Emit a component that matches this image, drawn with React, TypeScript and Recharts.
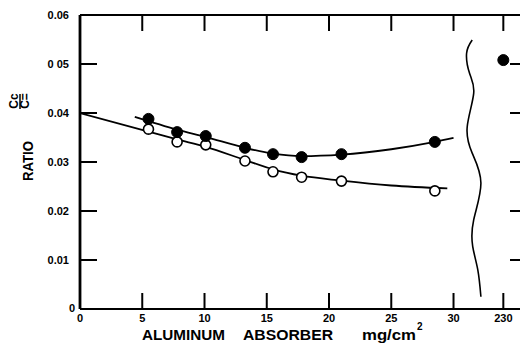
import React from 'react';
import { ComposedChart, Line, Scatter, XAxis, YAxis, Customized } from 'recharts';

// ---- data ----
const xTickValues = [0, 5, 10, 15, 20, 25, 30, 230];
const yTickValues = [0, 0.01, 0.02, 0.03, 0.04, 0.05, 0.06];
const yTickLabels = ['0', '0.01', '0.02', '0.03', '0.04', '0 05', '0.06'];

const absorberX = [5.5, 7.8, 10.1, 13.25, 15.5, 17.8, 21, 28.5];
const filledRatio = [0.0388, 0.0361, 0.0353, 0.0329, 0.0316, 0.031, 0.0316, 0.0341];
const openRatio = [0.0367, 0.0341, 0.0335, 0.0302, 0.028, 0.0269, 0.0261, 0.0241];

const farX = [230];
const farFilledRatio = [0.0508];

const fitFilledX = [4.4, 7.8, 10.1, 13.25, 15.5, 17.8, 21, 25, 28.5, 30];
const fitFilledY = [0.0392, 0.0366, 0.0351, 0.0329, 0.0317, 0.0312, 0.0315, 0.0326, 0.0341, 0.0349];
const fitOpenX = [0, 5.5, 7.8, 10.1, 13.25, 15.5, 17.8, 21, 25, 29.5];
const fitOpenY = [0.04, 0.0362, 0.0346, 0.0331, 0.0304, 0.0285, 0.0272, 0.0262, 0.0252, 0.0246];

// axis-break squiggle (drawn in data units of the broken axis)
const breakX = [31.5, 31.05, 31.3, 31.62, 31.1, 31.5, 32.2, 31.62, 31.54, 31.95, 32.2];
const breakY = [0.0549, 0.0522, 0.048, 0.044, 0.0372, 0.0318, 0.0257, 0.0182, 0.0128, 0.008, 0.0025];

// broken axis: values beyond the break are shifted next to 30
const BREAK_SHIFT = 196;
const pos = (x: number) => (x > 100 ? x - BREAK_SHIFT : x);

const filledData = absorberX.map((x, i) => ({ x: pos(x), y: filledRatio[i] }));
const openData = absorberX.map((x, i) => ({ x: pos(x), y: openRatio[i] }));
const farData = farX.map((x, i) => ({ x: pos(x), y: farFilledRatio[i] }));
const fitFilled = fitFilledX.map((x, i) => ({ x: pos(x), y: fitFilledY[i] }));
const fitOpen = fitOpenX.map((x, i) => ({ x: pos(x), y: fitOpenY[i] }));
const breakData = breakX.map((x, i) => ({ x, y: breakY[i] }));

const FONT = '"Liberation Sans", Arial, sans-serif';

const BottomTick = (props: any) => {
  const { x, payload } = props;
  const v = payload.value;
  const real = v > 31 ? v + BREAK_SHIFT : v;
  return (
    <g>
      {real !== 0 && <line x1={x} y1={309} x2={x} y2={293} stroke="#000" strokeWidth={2} />}
      <text x={x} y={322} textAnchor="middle" fontFamily={FONT} fontWeight="bold" fontSize={11} fill="#000">
        {String(real)}
      </text>
    </g>
  );
};

const TopTick = (props: any) => {
  const { x, payload } = props;
  if (payload.value === 0) return <g />;
  return <line x1={x} y1={15} x2={x} y2={31} stroke="#000" strokeWidth={2} />;
};

const LeftTick = (props: any) => {
  const { y, payload } = props;
  const i = yTickValues.indexOf(payload.value);
  const label = yTickLabels[i];
  const isZero = payload.value === 0;
  return (
    <g>
      {!isZero && <line x1={80} y1={y} x2={97} y2={y} stroke="#000" strokeWidth={2} />}
      <text
        x={isZero ? 75 : 69}
        y={isZero ? y + 3 : y + 4}
        textAnchor="end"
        fontFamily={FONT}
        fontWeight="bold"
        fontSize={11}
        fill="#000"
      >
        {label}
      </text>
    </g>
  );
};

const RightTick = (props: any) => {
  const { y, payload } = props;
  if (payload.value === 0 || payload.value === 0.06) return <g />;
  return <line x1={520} y1={y} x2={510} y2={y} stroke="#000" strokeWidth={2} />;
};

const FilledDot = (props: any) => {
  const { cx, cy } = props;
  return <circle cx={cx} cy={cy} r={5.5} fill="#000" stroke="#000" strokeWidth={1} />;
};

const OpenDot = (props: any) => {
  const { cx, cy } = props;
  return <circle cx={cx} cy={cy} r={5} fill="#fff" stroke="#000" strokeWidth={1.6} />;
};

const Labels = () => (
  <g fontFamily={FONT} fontWeight="bold" fill="#000">
    <text x={142} y={340} fontSize={14.5} textLength={83} lengthAdjust="spacingAndGlyphs">ALUMINUM</text>
    <text x={243} y={340} fontSize={14.5} textLength={90} lengthAdjust="spacingAndGlyphs">ABSORBER</text>
    <text x={362} y={340} fontSize={14.5} textLength={54} lengthAdjust="spacingAndGlyphs">mg/cm</text>
    <text x={417} y={330} fontSize={10}>2</text>
    <text
      transform="translate(33,161) rotate(-90)"
      textAnchor="middle"
      fontSize={14}
      textLength={40}
      lengthAdjust="spacingAndGlyphs"
    >
      RATIO
    </text>
    <text transform="translate(18,101) rotate(-90)" textAnchor="middle" fontSize={12}>
      Cc
    </text>
    <line x1={20} y1={94} x2={20} y2={109} stroke="#000" strokeWidth={1.5} />
    <text transform="translate(29,101) rotate(-90)" textAnchor="middle" fontSize={12}>
      C=
    </text>
  </g>
);

export default function App() {
  return (
    <div style={{ position: 'absolute', left: 0, top: 0, width: 520, height: 343, overflow: 'hidden', background: '#fff' }}>
      <ComposedChart width={524} height={343} margin={{ top: 5, right: 1, bottom: 24, left: 70 }}>
        <XAxis
          xAxisId="bottom"
          type="number"
          dataKey="x"
          domain={[0, 35.5]}
          ticks={xTickValues.map(pos)}
          interval={0}
          height={10}
          orientation="bottom"
          tickLine={false}
          axisLine={{ stroke: '#000', strokeWidth: 2.2 }}
          tick={<BottomTick />}
          allowDataOverflow
        />
        <XAxis
          xAxisId="top"
          type="number"
          dataKey="x"
          domain={[0, 35.5]}
          ticks={xTickValues.map(pos)}
          interval={0}
          height={10}
          orientation="top"
          tickLine={false}
          axisLine={{ stroke: '#000', strokeWidth: 2.2 }}
          tick={<TopTick />}
          allowDataOverflow
        />
        <YAxis
          yAxisId="left"
          type="number"
          domain={[0, 0.06]}
          ticks={yTickValues}
          interval={0}
          width={10}
          orientation="left"
          tickLine={false}
          axisLine={{ stroke: '#000', strokeWidth: 2.8 }}
          tick={<LeftTick />}
          allowDataOverflow
        />
        <YAxis
          yAxisId="right"
          type="number"
          domain={[0, 0.06]}
          ticks={yTickValues}
          interval={0}
          width={1}
          orientation="right"
          tickLine={false}
          axisLine={false}
          tick={<RightTick />}
          allowDataOverflow
        />
        <Line
          xAxisId="bottom"
          yAxisId="left"
          data={fitOpen}
          dataKey="y"
          type="monotone"
          stroke="#000"
          strokeWidth={1.8}
          dot={false}
          activeDot={false}
          isAnimationActive={false}
        />
        <Line
          xAxisId="bottom"
          yAxisId="left"
          data={fitFilled}
          dataKey="y"
          type="monotone"
          stroke="#000"
          strokeWidth={1.8}
          dot={false}
          activeDot={false}
          isAnimationActive={false}
        />
        <Line
          xAxisId="bottom"
          yAxisId="left"
          data={breakData}
          dataKey="y"
          type="natural"
          stroke="#000"
          strokeWidth={1.6}
          dot={false}
          activeDot={false}
          isAnimationActive={false}
        />
        <Scatter
          xAxisId="bottom"
          yAxisId="left"
          data={openData}
          dataKey="y"
          shape={<OpenDot />}
          isAnimationActive={false}
        />
        <Scatter
          xAxisId="bottom"
          yAxisId="left"
          data={filledData}
          dataKey="y"
          shape={<FilledDot />}
          isAnimationActive={false}
        />
        <Scatter
          xAxisId="bottom"
          yAxisId="left"
          data={farData}
          dataKey="y"
          shape={<FilledDot />}
          isAnimationActive={false}
        />
        <Customized component={Labels} />
      </ComposedChart>
    </div>
  );
}
